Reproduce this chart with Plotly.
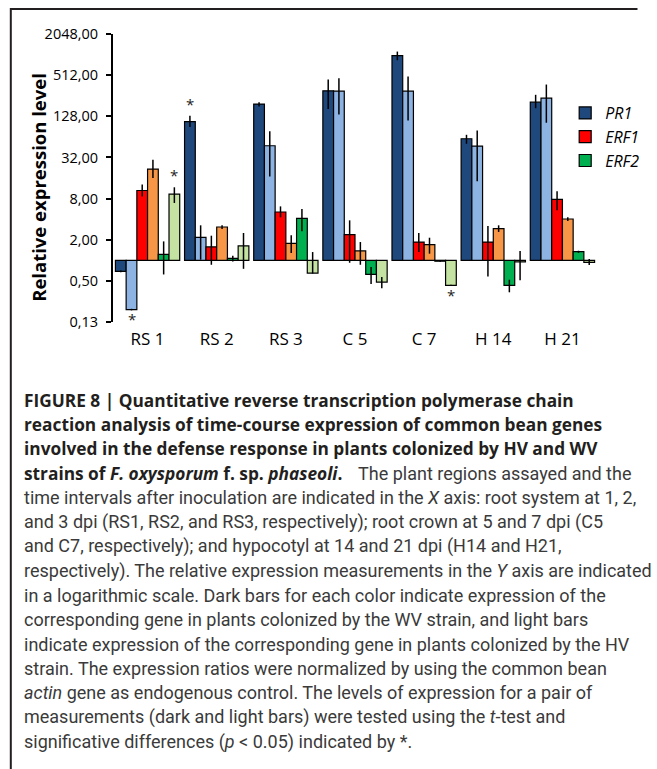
import math
import plotly.graph_objects as go

# ---------------- data ----------------
categories = ["RS 1", "RS 2", "RS 3", "C 5", "C 7", "H 14", "H 21"]

pr1_wv = [0.69, 107, 193, 302, 990, 60, 206]
pr1_wv_hi = [0.71, 130, 206, 442, 1133, 68.6, 264]
pr1_wv_lo = [0.67, 89, 178, 164, 846, 50.7, 168]

pr1_hv = [0.19, 2.17, 47.4, 298, 298, 46.9, 236]
pr1_hv_hi = [0.195, 3.25, 77, 461, 488, 79.4, 373]
pr1_hv_lo = [0.185, 1.02, 16.9, 136, 111, 14.4, 103]

erf1_wv = [10.5, 1.57, 5.09, 2.37, 1.85, 1.85, 7.78]
erf1_wv_hi = [12.8, 2.29, 6.15, 3.84, 2.51, 3.18, 10.2]
erf1_wv_lo = [8.6, 0.86, 4.25, 0.92, 1.32, 0.58, 5.38]

erf1_hv = [21.6, 3.07, 1.77, 1.37, 1.69, 2.9, 4.02]
erf1_hv_hi = [29.6, 3.25, 2.32, 1.85, 2.14, 3.25, 4.25]
erf1_hv_lo = [16.0, 2.87, 1.28, 0.86, 1.25, 2.6, 3.76]

erf2_wv = [1.22, 1.07, 4.1, 0.62, 0.97, 0.43, 1.34]
erf2_wv_hi = [1.89, 1.17, 5.63, 0.80, 0.99, 0.52, 1.38]
erf2_wv_lo = [0.62, 0.96, 2.65, 0.45, 0.95, 0.34, 1.28]

erf2_hv = [9.3, 1.62, 0.65, 0.48, 0.43, 0.95, 0.93]
erf2_hv_hi = [11.7, 2.51, 1.32, 0.57, 0.44, 1.37, 1.04]
erf2_hv_lo = [6.9, 0.75, 0.64, 0.39, 0.42, 0.51, 0.85]

y_tickvals = [0.125, 0.5, 2, 8, 32, 128, 512, 2048]
y_ticktext = ["0,13", "0,50", "2,00", "8,00", "32,00", "128,00", "512,00", "2048,00"]

# significance marks: (category index, series index, 'above'/'below')
sig_marks = [(0, 1, "below"), (0, 5, "above"), (1, 0, "above"), (4, 5, "below")]

# caption: (bold part, regular part) per line
caption_lines = [
    ("FIGURE 8 | Quantitative reverse transcription polymerase chain", ""),
    ("reaction analysis of time-course expression of common bean genes", ""),
    ("involved in the defense response in plants colonized by HV and WV", ""),
    ("strains of <i>F. oxysporum</i> f. sp. <i>phaseoli</i>.", "The plant regions assayed and the"),
    ("", "time intervals after inoculation are indicated in the <i>X</i> axis: root system at 1, 2,"),
    ("", "and 3 dpi (RS1, RS2, and RS3, respectively); root crown at 5 and 7 dpi (C5"),
    ("", "and C7, respectively); and hypocotyl at 14 and 21 dpi (H14 and H21,"),
    ("", "respectively). The relative expression measurements in the <i>Y</i> axis are indicated"),
    ("", "in a logarithmic scale. Dark bars for each color indicate expression of the"),
    ("", "corresponding gene in plants colonized by the WV strain, and light bars"),
    ("", "indicate expression of the corresponding gene in plants colonized by the HV"),
    ("", "strain. The expression ratios were normalized by using the common bean"),
    ("", "<i>actin</i> gene as endogenous control. The levels of expression for a pair of"),
    ("", "measurements (dark and light bars) were tested using the <i>t</i>-test and"),
    ("", "significative differences (<i>p</i> &lt; 0.05) indicated by *."),
]

series = [
    ("PR1", pr1_wv, pr1_wv_hi, pr1_wv_lo, "#1f497d", True),
    ("PR1 HV", pr1_hv, pr1_hv_hi, pr1_hv_lo, "#8db3e2", False),
    ("ERF1", erf1_wv, erf1_wv_hi, erf1_wv_lo, "#ff0000", True),
    ("ERF1 HV", erf1_hv, erf1_hv_hi, erf1_hv_lo, "#f79646", False),
    ("ERF2", erf2_wv, erf2_wv_hi, erf2_wv_lo, "#00b050", True),
    ("ERF2 HV", erf2_hv, erf2_hv_hi, erf2_hv_lo, "#c4e3a2", False),
]

# ---------------- layout geometry ----------------
W, H = 657, 769
L, R, T, B = 113, 615, 34, 322  # plot area in pixels


def px2x(px):
    return (px - L) / (R - L)


def py2y(py):
    return (B - py) / (B - T)


BARGAP = 0.07
fig = go.Figure()
for i, (name, vals, hi, lo, color, legend) in enumerate(series):
    fig.add_trace(go.Bar(
        x=categories,
        y=[v - 1 for v in vals],
        base=[1] * len(vals),
        name=name,
        legendgroup=name,
        showlegend=legend,
        marker=dict(color=color, line=dict(color="black", width=1.2)),
        error_y=dict(type="data", symmetric=False,
                     array=[h - v for h, v in zip(hi, vals)],
                     arrayminus=[v - l for v, l in zip(vals, lo)],
                     color="black", thickness=1.5, width=0),
    ))

annotations = []
# significance stars
bar_w = (1 - BARGAP) / len(series)
for ci, si, pos in sig_marks:
    _, vals, hi, lo, _, _ = series[si]
    xpos = ci + (si - (len(series) - 1) / 2) * bar_w
    if pos == "above":
        yv, ys = hi[ci], 12
    else:
        yv, ys = lo[ci], -9
    annotations.append(dict(x=xpos, y=math.log10(yv), xref="x", yref="y",
                            text="*", showarrow=False, yshift=ys,
                            font=dict(family="Open Sans", size=15, color="#222")))

# y-axis title
annotations.append(dict(x=px2x(35), y=py2y(187), xref="paper", yref="paper",
                        text="<b>Relative expression level</b>", textangle=-90,
                        showarrow=False, xanchor="center", yanchor="middle",
                        font=dict(family="Open Sans", size=18.5, color="black")))

# caption
for k, (bold, reg) in enumerate(caption_lines):
    yy = py2y(400 + 24.4 * k)
    if bold:
        annotations.append(dict(x=px2x(19), y=yy, xref="paper", yref="paper",
                                text="<b>" + bold + "</b>", showarrow=False,
                                xanchor="left", yanchor="middle",
                                font=dict(family="Open Sans", size=17.3, color="#231f20")))
    if reg:
        x_start = 365 if bold else 19
        annotations.append(dict(x=px2x(x_start), y=yy, xref="paper", yref="paper",
                                text=reg, showarrow=False, xanchor="left", yanchor="middle",
                                font=dict(family="Roboto", size=18, color="#3a3a3a")))

shapes = [
    # baseline at 1
    dict(type="line", xref="paper", yref="y", x0=0, x1=px2x(611), y0=0, y1=0,
         line=dict(color="black", width=1.5)),
    # figure frame
    dict(type="line", xref="paper", yref="paper", x0=px2x(7), x1=px2x(7),
         y0=py2y(8), y1=py2y(769), line=dict(color="#231f20", width=2)),
    dict(type="line", xref="paper", yref="paper", x0=px2x(7), x1=px2x(657),
         y0=py2y(9), y1=py2y(9), line=dict(color="#231f20", width=2)),
]

fig.update_layout(
    width=W, height=H,
    margin=dict(l=L, r=W - R, t=T, b=H - B),
    paper_bgcolor="white", plot_bgcolor="white",
    barmode="group", bargap=BARGAP, bargroupgap=0,
    annotations=annotations, shapes=shapes,
    legend=dict(x=px2x(582), y=py2y(96), xanchor="left", yanchor="top",
                bgcolor="rgba(0,0,0,0)", tracegroupgap=0,
                font=dict(family="Open Sans", size=16, color="black", style="italic")),
    xaxis=dict(showline=False, ticks="", showgrid=False, zeroline=False,
               range=[-0.5, len(categories) - 0.5], ticklabelstandoff=5,
               tickfont=dict(family="Open Sans", size=17, color="black")),
    yaxis=dict(type="log", range=[math.log10(0.125), math.log10(2048)],
               tickvals=y_tickvals, ticktext=y_ticktext,
               showline=True, linecolor="black", linewidth=2,
               ticks="outside", ticklen=5, tickwidth=2, tickcolor="black",
               showgrid=False, zeroline=False, ticklabelstandoff=5,
               tickfont=dict(family="Open Sans", size=14.5, color="black")),
)

fig.write_html("out.html", config={"displayModeBar": False},
               post_script="document.body.style.margin='0px';")
